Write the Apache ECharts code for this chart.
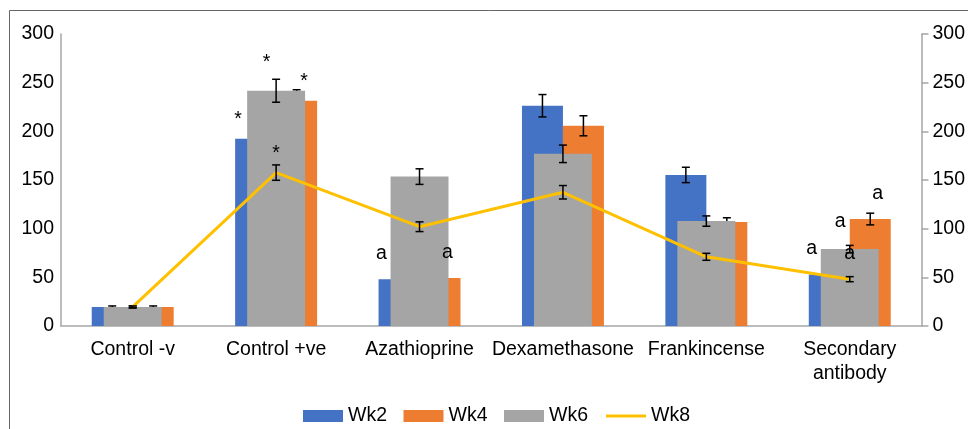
<!DOCTYPE html>
<html>
<head>
<meta charset="utf-8">
<script src="https://cdn.jsdelivr.net/npm/echarts@6/dist/echarts.min.js"></script>
<style>
html,body{margin:0;padding:0;background:#fff;}
#c{width:968px;height:429px;}
</style>
</head>
<body>
<div id="c"></div>
<script>
// ---- data ----
const categories = ['Control -v', 'Control +ve', 'Azathioprine', 'Dexamethasone', 'Frankincense', 'Secondary\nantibody'];
const wk2 = [19.6, 192.3, 48.1, 226.3, 155.2, 52.9];
const wk4 = [19.6, 231.4, 49.4, 205.7, 106.8, 109.9];
const wk6 = [19.6, 241.7, 153.5, 176.9, 107.8, 79.0];
const wk8 = [19.6, 157.6, 102.0, 137.4, 71.1, 48.1];
const wk2Err = [1, 10, 5, 11.5, 7.9, 5];
const wk4Err = [1, 11.3, 5, 10.3, 4.4, 6];
const wk6Err = [1, 11.8, 8, 9, 5.3, 3.8];
const wk8Err = [1, 7.9, 5, 6.9, 3.6, 2.6];
const yTicks = [0, 50, 100, 150, 200, 250, 300];
const annotations = [
  ['Control +ve', 'Wk2', '*'], ['Control +ve', 'Wk6', '*'], ['Control +ve', 'Wk4', '*'], ['Control +ve', 'Wk8', '*'],
  ['Azathioprine', 'Wk2', 'a'], ['Azathioprine', 'Wk4', 'a'],
  ['Secondary\nantibody', 'Wk2', 'a'], ['Secondary\nantibody', 'Wk6', 'a'],
  ['Secondary\nantibody', 'Wk8', 'a'], ['Secondary\nantibody', 'Wk4', 'a']
];

// ---- styling ----
const FONT = "'Liberation Sans', Arial, sans-serif";
const FS = 19.5;
const AXIS_COLOR = '#a6a6a6';
const colors = { Wk2: '#4472C4', Wk4: '#ED7D31', Wk6: '#A5A5A5', Wk8: '#FFC000' };
const values = { Wk2: wk2, Wk4: wk4, Wk6: wk6, Wk8: wk8 };
const errors = { Wk2: wk2Err, Wk4: wk4Err, Wk6: wk6Err, Wk8: wk8Err };
const pairBarFrac = 0.2857;             // width of Wk2 / Wk4 bars as a fraction of the band
const errOffset = { Wk2: -pairBarFrac / 2, Wk4: pairBarFrac / 2, Wk6: 0, Wk8: 0 };
const labelOffset = { Wk2: -0.265, Wk4: 0.195, Wk6: -0.066, Wk8: 0 };
const labelClear = { Wk2: 10, Wk4: 10, Wk6: 22, Wk8: 10 };
const glyphShift = { '*': 5, 'a': -1.5 };

function errSeries(key, z) {
  const errs = errors[key];
  return {
    type: 'custom',
    xAxisIndex: 0, yAxisIndex: 0,
    z: z,
    silent: true,
    data: values[key].map((v, i) => [i, v, errs[i]]),
    renderItem: function (params, api) {
      const i = api.value(0), v = api.value(1), e = api.value(2);
      const band = api.size([1, 0])[0];
      const x = api.coord([i, v])[0] + errOffset[key] * band;
      const yt = api.coord([i, v + e])[1];
      const yb = api.coord([i, v - e])[1];
      const w = 4;
      const st = { stroke: '#000', lineWidth: 1.5 };
      return {
        type: 'group',
        children: [
          { type: 'line', shape: { x1: x, y1: yt, x2: x, y2: yb }, style: st },
          { type: 'line', shape: { x1: x - w, y1: yt, x2: x + w, y2: yt }, style: st },
          { type: 'line', shape: { x1: x - w, y1: yb, x2: x + w, y2: yb }, style: st }
        ]
      };
    }
  };
}

const annotationSeries = {
  type: 'custom',
  xAxisIndex: 0, yAxisIndex: 0,
  z: 10,
  silent: true,
  data: annotations.map(a => {
    const ci = categories.indexOf(a[0]);
    return [ci, values[a[1]][ci], errors[a[1]][ci]];
  }),
  renderItem: function (params, api) {
    const a = annotations[params.dataIndex];
    const key = a[1];
    const i = api.value(0), v = api.value(1), e = api.value(2);
    const band = api.size([1, 0])[0];
    const p = api.coord([i, v]);
    const pe = api.coord([i, v + e]);
    const x = p[0] + labelOffset[key] * band;
    const y = Math.min(p[1] - 24, pe[1] - labelClear[key]) + glyphShift[a[2]];
    return {
      type: 'text',
      style: {
        text: a[2], x: x, y: y,
        align: 'center', verticalAlign: 'middle',
        fontFamily: FONT, fontSize: FS, fill: '#000'
      }
    };
  }
};

const yAxisBase = {
  type: 'value', min: yTicks[0], max: yTicks[yTicks.length - 1], interval: yTicks[1] - yTicks[0],
  splitLine: { show: false },
  axisLine: { show: true, lineStyle: { color: AXIS_COLOR, width: 1.5 } },
  axisLabel: { fontFamily: FONT, fontSize: FS, color: '#000' }
};

const option = {
  animation: false,
  backgroundColor: '#fff',
  grid: { left: 61, right: 46, top: 34, bottom: 103 },
  graphic: [{
    type: 'rect', silent: true, z: -1,
    shape: { x: 9.5, y: 10.5, width: 1200, height: 800 },
    style: { fill: 'none', stroke: '#666', lineWidth: 1 }
  }],
  legend: {
    left: 303, top: 405, padding: 0,
    itemWidth: 40, itemHeight: 12, itemGap: 16.5,
    textStyle: { fontFamily: FONT, fontSize: FS, color: '#000', lineHeight: 22 },
    data: [
      { name: 'Wk2', icon: 'rect' }, { name: 'Wk4', icon: 'rect' }, { name: 'Wk6', icon: 'rect' },
      { name: 'Wk8', itemStyle: { opacity: 0 }, lineStyle: { width: 3 } }
    ]
  },
  xAxis: [{
    type: 'category', data: categories,
    axisLine: { lineStyle: { color: AXIS_COLOR, width: 1.5 } },
    axisTick: { show: false },
    axisLabel: { interval: 0, fontFamily: FONT, fontSize: FS, color: '#000', margin: 12, lineHeight: 24 }
  }, {
    type: 'category', data: categories, show: false
  }],
  yAxis: [
    Object.assign({}, yAxisBase, { position: 'left', axisTick: { show: false }, axisLabel: Object.assign({}, yAxisBase.axisLabel, { margin: 7 }) }),
    Object.assign({}, yAxisBase, { position: 'right', axisTick: { show: true, length: 7, lineStyle: { color: AXIS_COLOR, width: 1.5 } }, axisLabel: Object.assign({}, yAxisBase.axisLabel, { margin: 11 }) })
  ],
  series: [
    { name: 'Wk2', type: 'bar', data: wk2, barWidth: (pairBarFrac * 100) + '%', barGap: '0%', itemStyle: { color: colors.Wk2 }, z: 2 },
    { name: 'Wk4', type: 'bar', data: wk4, barWidth: (pairBarFrac * 100) + '%', barGap: '0%', itemStyle: { color: colors.Wk4 }, z: 2 },
    errSeries('Wk2', 3),
    errSeries('Wk4', 3),
    { name: 'Wk6', type: 'bar', xAxisIndex: 1, yAxisIndex: 1, data: wk6, barWidth: '40.4%', itemStyle: { color: colors.Wk6 }, z: 4 },
    errSeries('Wk6', 5),
    { name: 'Wk8', type: 'line', data: wk8, symbol: 'none', lineStyle: { width: 3, color: colors.Wk8 }, itemStyle: { color: colors.Wk8 }, z: 6 },
    errSeries('Wk8', 7),
    annotationSeries
  ]
};

const chart = echarts.init(document.getElementById('c'), null, { renderer: 'canvas' });
chart.setOption(option);
</script>
</body>
</html>
